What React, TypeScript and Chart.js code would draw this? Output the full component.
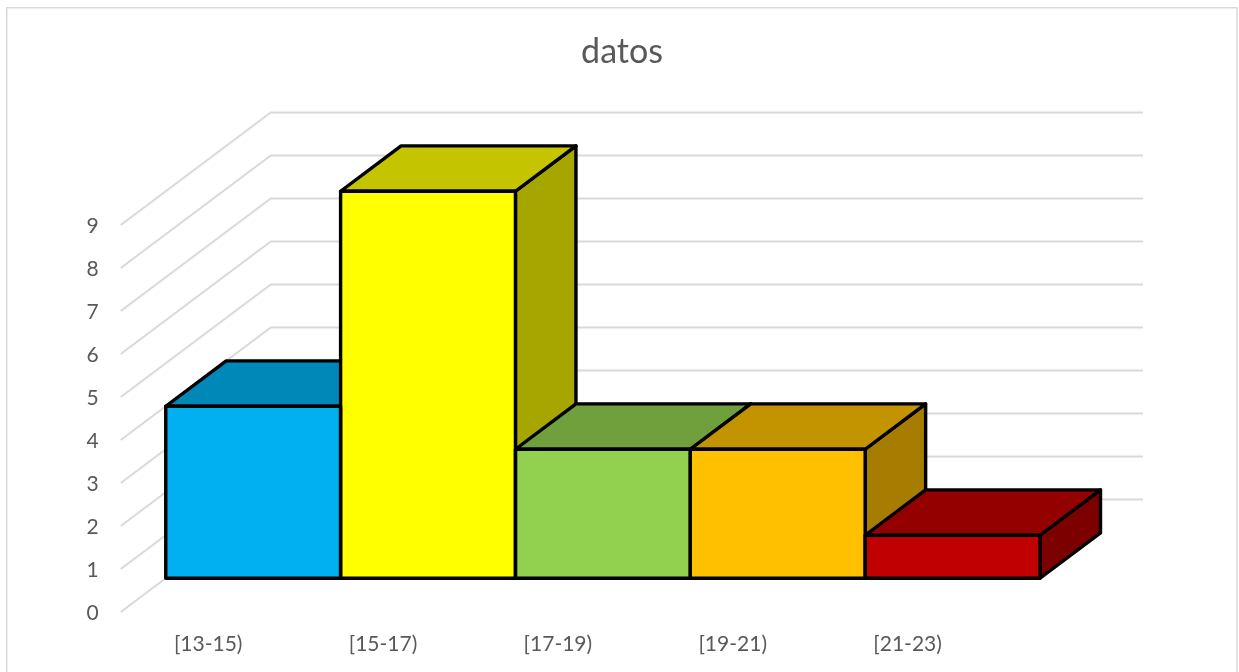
import React, { useEffect, useRef } from "react";
import { Chart, registerables } from "chart.js";

Chart.register(...registerables);

const categories = ["[13-15)", "[15-17)", "[17-19)", "[19-21)", "[21-23)"];
const frequencies = [4, 9, 3, 3, 1];
const frontColors = ["#00B0F0", "#FFFF00", "#92D050", "#FFC000", "#C00000"];
const topColors = ["#0088B8", "#C4C400", "#70A03E", "#C49400", "#940000"];
const sideColors = ["#0072A0", "#A6A600", "#5F8834", "#A67D00", "#7D0000"];

// Oblique projection: the full floor depth moves a point this far right and up.
const DEPTH_X = 150;
const DEPTH_Y = 112.5;
// The boxes occupy this slice of the floor depth.
const BOX_NEAR = 0.3;
const BOX_FAR = 0.7033;
// The back wall rules stop slightly short of the projected floor corner.
const WALL_INSET = 2;

const GRID = "#D9D9D9";
const INK = "#595959";
const FONT = "Lato, 'Open Sans', sans-serif";
const OUTLINE = 3.4;

const polygon = (ctx: CanvasRenderingContext2D, pts: number[][], fill: string) => {
  ctx.beginPath();
  pts.forEach(([x, y], i) => (i ? ctx.lineTo(x, y) : ctx.moveTo(x, y)));
  ctx.closePath();
  ctx.fillStyle = fill;
  ctx.fill();
  ctx.stroke();
};

const frame = {
  id: "frame",
  beforeDraw(chart: any) {
    const { ctx, width, height } = chart;
    ctx.save();
    ctx.strokeStyle = GRID;
    ctx.lineWidth = 1.5;
    ctx.strokeRect(6.75, 7.75, width - 8.75, height);
    ctx.restore();
  },
};

const box3d = {
  id: "box3d",
  beforeDatasetDraw(chart: any, args: any) {
    const { ctx, chartArea, scales } = chart;
    const yScale = scales.y;

    // Side wall and back wall rules, one per y tick
    ctx.save();
    ctx.strokeStyle = GRID;
    ctx.lineWidth = 2;
    ctx.lineJoin = "miter";
    yScale.ticks.forEach((t: any) => {
      const y = yScale.getPixelForValue(t.value);
      ctx.beginPath();
      ctx.moveTo(chartArea.left, y);
      ctx.lineTo(chartArea.left + DEPTH_X, y - DEPTH_Y);
      ctx.lineTo(chartArea.right + DEPTH_X - WALL_INSET, y - DEPTH_Y);
      ctx.stroke();
    });

    // Side and top faces, painted before the front faces cover them
    const nx = DEPTH_X * BOX_NEAR;
    const ny = DEPTH_Y * BOX_NEAR;
    const dx = DEPTH_X * (BOX_FAR - BOX_NEAR);
    const dy = DEPTH_Y * (BOX_FAR - BOX_NEAR);
    ctx.strokeStyle = "#000";
    ctx.lineWidth = OUTLINE;
    ctx.lineJoin = "round";
    args.meta.data.forEach((bar: any, i: number) => {
      const l = bar.x - bar.width / 2 + nx;
      const r = bar.x + bar.width / 2 + nx;
      const t = bar.y - ny;
      const b = bar.base - ny;
      polygon(ctx, [[r, t], [r + dx, t - dy], [r + dx, b - dy], [r, b]], sideColors[i]);
      polygon(ctx, [[l, t], [l + dx, t - dy], [r + dx, t - dy], [r, t]], topColors[i]);
    });
    ctx.restore();

    // The library paints the front faces, shifted onto the near plane of the boxes
    ctx.save();
    ctx.translate(nx, -ny);
  },
  afterDatasetDraw(chart: any, args: any) {
    const { ctx } = chart;
    ctx.strokeStyle = "#000";
    ctx.lineWidth = OUTLINE;
    ctx.lineJoin = "round";
    args.meta.data.forEach((bar: any) => {
      ctx.strokeRect(bar.x - bar.width / 2, bar.y, bar.width, bar.base - bar.y);
    });
    ctx.restore();
  },
};

export default function App() {
  const ref = useRef<HTMLCanvasElement>(null);

  useEffect(() => {
    const chart = new Chart(ref.current!, {
      type: "bar",
      data: {
        labels: categories,
        datasets: [
          {
            label: "datos",
            data: frequencies,
            backgroundColor: frontColors,
            borderWidth: 0,
            categoryPercentage: 1,
            barPercentage: 1,
            clip: false,
            yAxisID: "y",
          } as any,
        ],
      },
      options: {
        responsive: false,
        animation: false,
        layout: { padding: { left: 5, right: 0, top: 0, bottom: 0 } },
        plugins: {
          legend: { display: false },
          tooltip: { enabled: false },
          title: {
            display: true,
            text: "datos",
            color: INK,
            font: { family: FONT, size: 34, weight: "normal", lineHeight: 1.2 },
            padding: { top: 32, bottom: 152.2 },
          },
        },
        scales: {
          x: {
            grid: { display: false },
            border: { display: false },
            ticks: {
              color: INK,
              padding: 12,
              maxRotation: 0,
              font: { family: FONT, size: 21 },
            },
            afterFit(scale: any) {
              scale.height = 60;
            },
          },
          y: {
            min: 0,
            max: 9,
            grid: { display: false },
            border: { display: false },
            ticks: {
              stepSize: 1,
              color: INK,
              padding: 14,
              labelOffset: 1.5,
              font: { family: FONT, size: 21 },
            },
            afterFit(scale: any) {
              scale.width = 115.75;
            },
          },
          // Empty right-hand gutter that leaves room for the projected depth
          gutter: {
            type: "linear",
            position: "right",
            grid: { display: false },
            border: { display: false },
            ticks: { display: false },
            afterFit(scale: any) {
              scale.width = 244;
            },
          },
        },
      },
      plugins: [frame, box3d],
    });
    return () => chart.destroy();
  }, []);

  return (
    <canvas
      ref={ref}
      width={1239}
      height={672}
      style={{ position: "fixed", left: 0, top: 0, width: 1239, height: 672 }}
    />
  );
}
